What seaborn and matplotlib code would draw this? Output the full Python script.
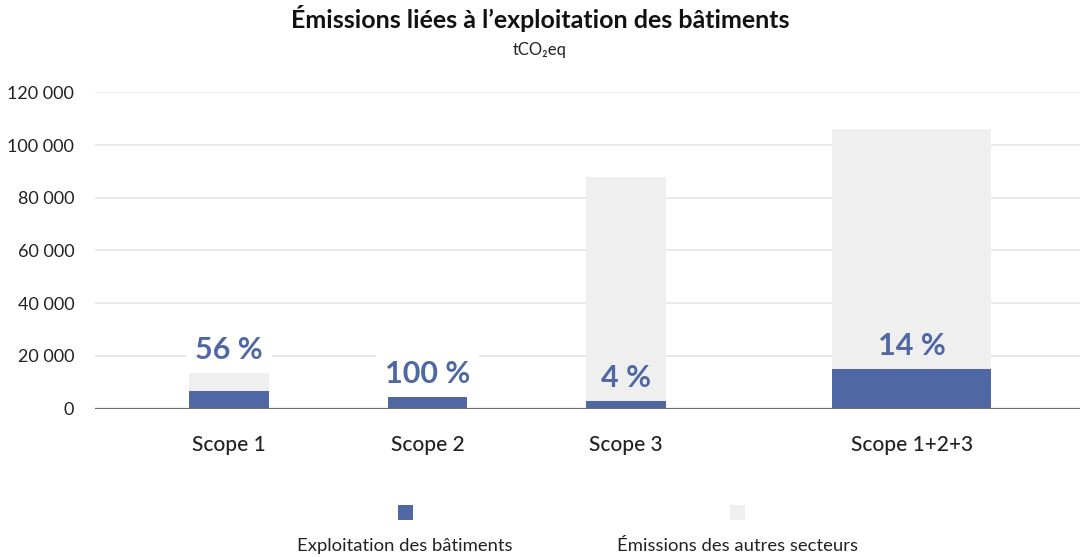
import numpy as np
import pandas as pd
import matplotlib
matplotlib.use("Agg")
import matplotlib.pyplot as plt
from matplotlib.patches import Rectangle
import seaborn as sns

# ---- data ----
categories = ["Scope 1", "Scope 2", "Scope 3", "Scope 1+2+3"]
exploitation = [6700, 4400, 2800, 15000]
totals = [13400, 4400, 88000, 106000]
percent_labels = ["56 %", "100 %", "4 %", "14 %"]
y_ticks = [0, 20000, 40000, 60000, 80000, 100000, 120000]
y_tick_labels = ["0", "20 000", "40 000", "60 000", "80 000", "100 000", "120 000"]
legend_labels = ["Exploitation des bâtiments", "Émissions des autres secteurs"]
title = "Émissions liées à l’exploitation des bâtiments"
subtitle = "tCO₂eq"

BLUE = "#4F67A3"
GRAY = "#EFEFEF"
TXT = "#222222"

sns.set_theme(style="white")
plt.rcParams["font.family"] = ["Lato", "DejaVu Sans"]

W, H = 1080, 557
fig = plt.figure(figsize=(W / 100, H / 100), dpi=100)
ax = fig.add_axes([95 / W, 1 - 408.5 / H, 985 / W, (408.5 - 92.3) / H])

# layout positions (last group set apart and wider)
positions = [0, 1, 2, 3.44]
widths = [0.4, 0.4, 0.4, 0.8]

df = pd.DataFrame({"cat": categories, "pos": positions, "total": totals,
                   "exploitation": exploitation, "w": widths})

for w, sub in df.groupby("w"):
    sns.barplot(data=sub, x="pos", y="total", native_scale=True, width=w,
                color=GRAY, saturation=1, errorbar=None, linewidth=0, ax=ax)
for w, sub in df.groupby("w"):
    sns.barplot(data=sub, x="pos", y="exploitation", native_scale=True, width=w,
                color=BLUE, saturation=1, errorbar=None, linewidth=0, ax=ax)

ax.set_xlim(-0.675, 4.287)
ax.set_ylim(0, 120000)
ax.set_yticks(y_ticks, y_tick_labels)
ax.set_xticks(positions, categories)
ax.set_xlabel("")
ax.set_ylabel("")
for s in ax.spines.values():
    s.set_visible(False)
ax.yaxis.grid(True, color="#E9E9E9", lw=1.4)
ax.set_axisbelow(True)
ax.axhline(0, color="#6E6E6E", lw=1.6, zorder=5)
ax.tick_params(axis="y", length=0, pad=15, labelsize=13, labelcolor=TXT)
ax.tick_params(axis="x", length=0, pad=19, labelsize=15, labelcolor=TXT)
for t in ax.get_xticklabels():
    t.set_fontweight("medium")

# percentage labels
for p, tot, ex, lab in zip(positions, totals, exploitation, percent_labels):
    above_total = tot < 20000
    anchor = tot if above_total else ex
    kw = {}
    if above_total:
        kw["bbox"] = dict(boxstyle="square,pad=0.3", fc="white", ec="none")
    ax.annotate(lab, xy=(p, anchor), xytext=(0, 23 * 0.72), textcoords="offset points",
                ha="center", va="center", fontsize=22, fontweight="bold",
                color=BLUE, zorder=6, **kw)

# titles
fig.text(0.5, 1 - 18 / H, title, ha="center", va="center", fontsize=18,
         fontweight="bold", color="#111111")
fig.text(0.5, 1 - 50 / H, subtitle, ha="center", va="center", fontsize=12,
         color=TXT)

# legend (marker above label)
for cx, col, lab in zip([405, 737], [BLUE, GRAY], legend_labels):
    fig.patches.append(Rectangle(((cx - 7.5) / W, 1 - 520 / H), 15 / W, 15 / H,
                                 transform=fig.transFigure, fc=col, ec="none"))
    fig.text(cx / W, 1 - 546 / H, lab, ha="center", va="center", fontsize=13.3,
             color=TXT)

fig.savefig("out.png", dpi=100, facecolor="white")
